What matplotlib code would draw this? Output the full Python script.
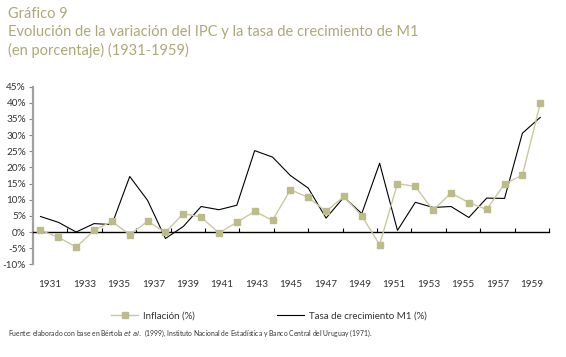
import numpy as np
import matplotlib
matplotlib.use("Agg")
import matplotlib.pyplot as plt
from matplotlib.lines import Line2D

plt.rcParams['font.family'] = ['Lato', 'DejaVu Sans']

# datos
years = list(range(1931, 1960))
inflacion = [0.5, -1.6, -4.7, 0.5, 3.3, -0.8, 3.3, -0.1, 5.7, 4.6,
             -0.3, 3.0, 6.4, 3.6, 13.1, 10.7, 6.4, 11.0, 5.0, -3.9,
             15.0, 14.1, 6.7, 12.1, 9.1, 7.0, 14.9, 17.6, 39.8]
m1 = [4.8, 3.0, 0.0, 2.6, 2.3, 17.2, 9.8, -2.0, 1.7, 7.9,
      6.9, 8.3, 25.2, 23.2, 17.5, 13.6, 4.3, 10.8, 5.7, 21.3,
      0.5, 9.2, 7.6, 7.9, 4.5, 10.5, 10.4, 30.6, 35.5]
x_labels = [str(y) for y in range(1931, 1960, 2)]
y_ticks = list(range(-10, 50, 5))

TITLE_COL = '#aca977'
MARK_COL = '#bcbb8a'
LINE_COL = '#cac8a2'
TEXT_COL = '#333333'

fig = plt.figure(figsize=(5.66, 3.57), dpi=100)
ax = fig.add_axes([33 / 566, 1 - 264.3 / 357, (549 - 33) / 566, (264.3 - 86.7) / 357])

ax.plot(years, m1, color='black', lw=0.8, zorder=3)
ax.plot(years, inflacion, color=LINE_COL, lw=1.0, marker='s', ms=4.5,
        mfc=MARK_COL, mec=MARK_COL, zorder=4)

x0, x1 = 1930.58, 1959.49
ax.set_xlim(x0, x1)
ax.set_ylim(-10, 45)

# eje y
ax.set_yticks(y_ticks)
ax.set_yticklabels([f'{v}%' for v in y_ticks], fontsize=7.2, color=TEXT_COL)
ax.tick_params(axis='y', direction='out', length=3, width=0.8, color='#888888', pad=2)
ax.spines['left'].set_color('#a0a0a0')
ax.spines['left'].set_linewidth(1.6)
ax.spines['top'].set_visible(False)
ax.spines['right'].set_visible(False)

# eje x en cero
edges = np.linspace(x0, x1, 16)
ax.spines['bottom'].set_position(('data', 0))
ax.spines['bottom'].set_linewidth(1.0)
ax.set_xticks(edges[1:])
ax.set_xticklabels([])
ax.tick_params(axis='x', direction='in', length=3, width=0.8, color='black')

# etiquetas de años abajo
sec = ax.secondary_xaxis(0.0)
sec.set_xticks((edges[:-1] + edges[1:]) / 2)
sec.set_xticklabels(x_labels, fontsize=7.2, color=TEXT_COL)
sec.tick_params(length=0, pad=11)
sec.spines['bottom'].set_visible(False)

# titulos
fig.text(8 / 566, 1 - 14 / 357, 'Gráfico 9', fontsize=10.5, color=TITLE_COL, va='center')
fig.text(8 / 566, 1 - 32 / 357,
         'Evolución de la variación del IPC y la tasa de crecimiento de M1',
         fontsize=10.5, color=TITLE_COL, va='center')
fig.text(8 / 566, 1 - 50 / 357, '(en porcentaje) (1931-1959)',
         fontsize=10.5, color=TITLE_COL, va='center')

# leyenda
handles = [Line2D([], [], color=LINE_COL, lw=1.0, marker='s', ms=4,
                  mfc=MARK_COL, mec=MARK_COL),
           Line2D([], [], color='black', lw=0.8)]
fig.legend(handles, ['Inflación (%)', 'Tasa de crecimiento M1 (%)'],
           loc='center', bbox_to_anchor=(0.475, 1 - 316 / 357), ncol=2,
           frameon=False, fontsize=7, handlelength=2.8, columnspacing=8.4,
           handletextpad=0.5, labelcolor=TEXT_COL)

# fuente
fig.text(8 / 566, 1 - 333 / 357,
         r'Fuente: elaborado con base en Bértola $\it{et\ al.}$ (1999), Instituto Nacional de Estadística y Banco Central del Uruguay (1971).',
         fontsize=4.9, color=TEXT_COL, va='center')

fig.savefig('out.png', dpi=100)
